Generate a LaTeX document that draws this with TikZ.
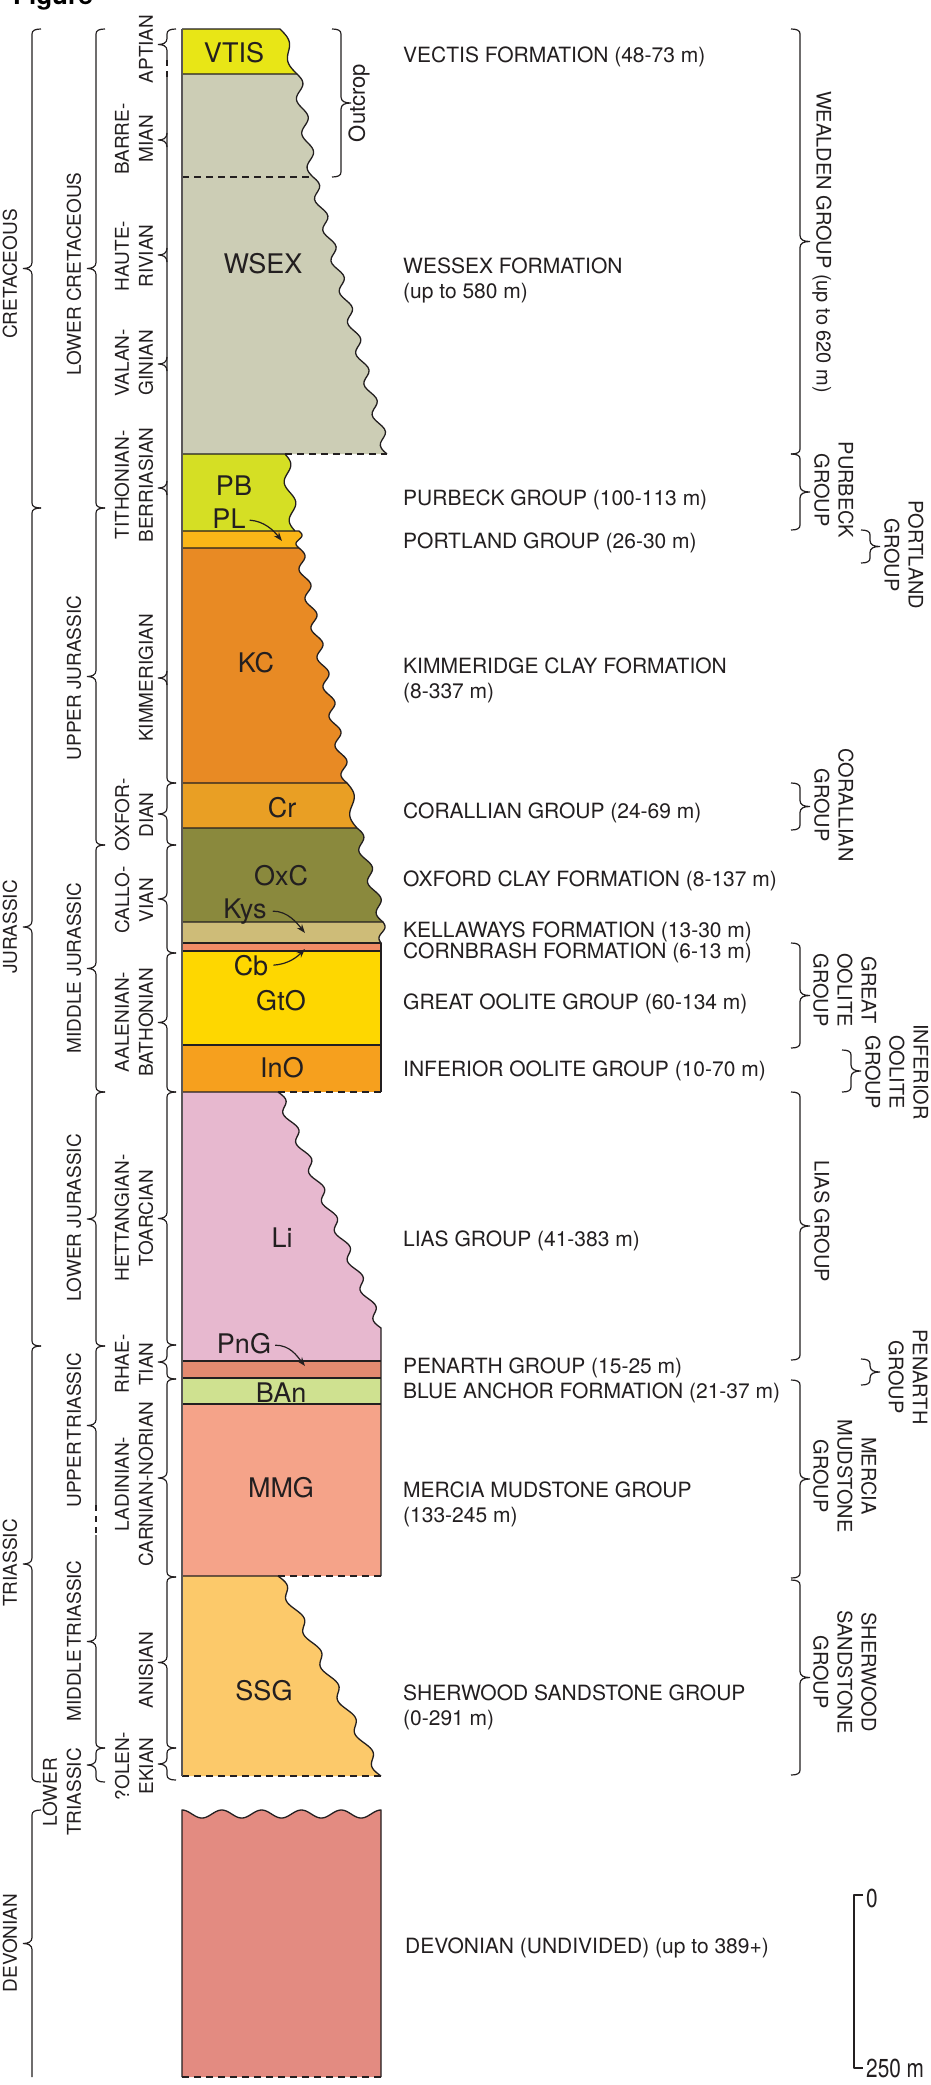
\documentclass[tikz,border=0pt]{standalone}
\usepackage{fontspec}
\setmainfont{TeX Gyre Heros}
\usetikzlibrary{arrows.meta}
\definecolor{ink}{HTML}{231F20}
\definecolor{cVTIS}{HTML}{E8E616}
\definecolor{cWSEX}{HTML}{CCCDB5}
\definecolor{cPB}{HTML}{D5DF24}
\definecolor{cPL}{HTML}{FBB617}
\definecolor{cKC}{HTML}{E88A24}
\definecolor{cCr}{HTML}{E99F24}
\definecolor{cOxC}{HTML}{8A893D}
\definecolor{cKys}{HTML}{CEBC78}
\definecolor{cCb}{HTML}{F08C66}
\definecolor{cGtO}{HTML}{FED700}
\definecolor{cInO}{HTML}{F6A01E}
\definecolor{cLi}{HTML}{E7B8CF}
\definecolor{cPnG}{HTML}{E38A70}
\definecolor{cBAn}{HTML}{CFE190}
\definecolor{cMMG}{HTML}{F5A389}
\definecolor{cSSG}{HTML}{FCC96A}
\definecolor{cDEV}{HTML}{E38B81}
\newcommand{\BraceL}[5]{\draw[brc] ({#1+9*#4},{#2}) .. controls ({#1+3*#4},{#2}) and ({#1},{#2+1.5}) .. ({#1},{#2+5}) -- ({#1},{(#2+#3)/2-6}) .. controls ({#1},{(#2+#3)/2-1.5}) and ({#1-4},{(#2+#3)/2}) .. ({#1-9},{(#2+#3)/2}) .. controls ({#1-4},{(#2+#3)/2}) and ({#1},{(#2+#3)/2+1.5}) .. ({#1},{(#2+#3)/2+6}) -- ({#1},{#3-5}) .. controls ({#1},{#3-1.5}) and ({#1+3*#5},{#3}) .. ({#1+9*#5},{#3});}
\newcommand{\BraceR}[5]{\draw[brc] ({#1-9*#4},{#2}) .. controls ({#1-3*#4},{#2}) and ({#1},{#2+1.5}) .. ({#1},{#2+5}) -- ({#1},{(#2+#3)/2-6}) .. controls ({#1},{(#2+#3)/2-1.5}) and ({#1+4},{(#2+#3)/2}) .. ({#1+10},{(#2+#3)/2}) .. controls ({#1+4},{(#2+#3)/2}) and ({#1},{(#2+#3)/2+1.5}) .. ({#1},{(#2+#3)/2+6}) -- ({#1},{#3-5}) .. controls ({#1},{#3-1.5}) and ({#1-3*#5},{#3}) .. ({#1-9*#5},{#3});}
\newcommand{\TipL}[2]{\draw[brc] ({#1},{#2-7}) .. controls ({#1},{#2-1.5}) and ({#1-4},{#2}) .. ({#1-9},{#2}) .. controls ({#1-4},{#2}) and ({#1},{#2+1.5}) .. ({#1},{#2+7});}
\tikzset{
  ln/.style={draw=ink, line width=1.3pt, line join=round},
  dsh/.style={draw=ink, line width=1.3pt, dash pattern=on 7pt off 5pt},
  brc/.style={draw=ink, line width=1.2pt},
  arr/.style={draw=ink, line width=1.2pt, -{Stealth[length=9pt,width=6.5pt]}},
  redge/.style n args={5}{insert path={-- plot[domain=#1:#3,samples=100,variable=\t] ({#2+(#4-#2)*((\t-#1)/(#3-#1))+#5*sin(360*max(1,round((#3-#1)/31))*((\t-#1)/(#3-#1)))},{\t})}},
  dedge/.style={insert path={-- plot[domain=182:381,samples=150,variable=\t] ({\t},{1814-4*cos(1800*((\t-182)/199))})}},
  cl/.style={font=\fontsize{27}{30}\selectfont, text=ink, anchor=base, inner sep=0pt},
  rl/.style={font=\fontsize{21}{25}\selectfont, text=ink, anchor=base west, inner sep=0pt},
  ll/.style={font=\fontsize{19}{24}\selectfont, text=ink, rotate=90, align=center, inner sep=0pt},
  rr/.style={font=\fontsize{20}{24}\selectfont, text=ink, rotate=-90, align=center, inner sep=0pt},
  sc/.style={font=\fontsize{26}{30}\selectfont, text=ink, anchor=base west, inner sep=0pt},
}
\begin{document}
\begin{tikzpicture}[x=1pt,y=-1pt]
\fill[white] (0,0) rectangle (930,2085);
\useasboundingbox (0,0) rectangle (930,2085);
\node[font=\bfseries\fontsize{26}{30}\selectfont, anchor=base west, inner sep=0pt] (fig) at (13,5) {Figure};
% ---------- layer fills
\fill[cVTIS] (182,29) -- (280,29) [redge={29}{280}{74}{297}{4.5}] -- (182,74) -- cycle;
\fill[cWSEX] (182,74) -- (297,74) [redge={74}{297}{177}{313}{4.5}] [redge={177}{313}{454}{387}{4.5}] -- (182,454) -- cycle;
\fill[cPB] (182,454) -- (285,454) [redge={454}{285}{531}{295}{4.5}] -- (182,531) -- cycle;
\fill[cPL] (182,531) -- (299,531) [redge={531}{299}{548}{299}{3}] -- (182,548) -- cycle;
\fill[cKC] (182,548) -- (299,548) [redge={548}{299}{783}{347}{4.5}] -- (182,783) -- cycle;
\fill[cCr] (182,783) -- (347,783) [redge={783}{347}{828}{357}{4.5}] -- (182,828) -- cycle;
\fill[cOxC] (182,828) -- (357,828) [redge={828}{357}{922}{383}{4.5}] -- (182,922) -- cycle;
\fill[cKys] (182,922) -- (383,922) [redge={922}{383}{943}{381}{2.5}] -- (182,943) -- cycle;
\fill[cCb] (182,943) rectangle (381,951);
\fill[cGtO] (182,951) rectangle (381,1045);
\fill[cInO] (182,1045) rectangle (381,1092);
\fill[cLi] (182,1092) -- (278,1092) [redge={1092}{278}{1328}{381}{4.5}] -- (381,1361) -- (182,1361) -- cycle;
\fill[cPnG] (182,1361) rectangle (381,1378);
\fill[cBAn] (182,1378) rectangle (381,1404);
\fill[cMMG] (182,1404) rectangle (381,1576);
\fill[cSSG] (182,1576) -- (278,1576) [redge={1576}{278}{1776}{381}{4.5}] -- (182,1776) -- cycle;
\fill[cDEV] (182,1810) [dedge] -- (381,2077) -- (182,2077) -- cycle;
% ---------- layer outlines
\draw[ln] (182,29) -- (280,29) [redge={29}{280}{74}{297}{4.5}];
\draw[ln] (182,74) -- (297,74) [redge={74}{297}{177}{313}{4.5}] [redge={177}{313}{454}{387}{4.5}];
\draw[ln] (182,454) -- (285,454) [redge={454}{285}{531}{295}{4.5}];
\draw[dsh] (285,454) -- (387,454);
\draw[ln] (182,531) -- (299,531) [redge={531}{299}{548}{299}{3}];
\draw[ln] (182,548) -- (299,548) [redge={548}{299}{783}{347}{4.5}];
\draw[ln] (182,783) -- (347,783) [redge={783}{347}{828}{357}{4.5}];
\draw[ln] (182,828) -- (357,828) [redge={828}{357}{922}{383}{4.5}];
\draw[ln] (182,922) -- (383,922) [redge={922}{383}{943}{381}{2.5}];
\draw[ln] (182,943) -- (381,943) -- (381,1092);
\draw[ln] (182,951) -- (381,951);
\draw[ln] (182,1045) -- (381,1045);
\draw[ln] (182,1092) -- (278,1092) [redge={1092}{278}{1328}{381}{4.5}] -- (381,1576);
\draw[dsh] (278,1092) -- (381,1092);
\draw[ln] (182,1361) -- (381,1361);
\draw[ln] (182,1378) -- (381,1378);
\draw[ln] (182,1404) -- (381,1404);
\draw[ln] (182,1576) -- (278,1576) [redge={1576}{278}{1776}{381}{4.5}];
\draw[dsh] (278,1576) -- (381,1576);
\draw[dsh] (182,1776) -- (381,1776);
\draw[dsh] (182,177) -- (313,177);
\draw[ln, draw=ink!75] (182,29) -- (182,1776);
\draw[ln] (182,2077) -- (182,1810) [dedge] -- (381,2077);
\draw[dsh] (182,2077) -- (381,2077);
% ---------- column labels
\node[cl] (VTIS) at (234,62) {VTIS};
\node[cl] (WSEX) at (263,273) {WSEX};
\node[cl] (PB) at (234,495) {PB};
\node[cl] (PL) at (229,528) {PL};
\node[cl] (KC) at (256,672) {KC};
\node[cl] (Cr) at (282,817) {Cr};
\node[cl] (OxC) at (281,885) {OxC};
\node[cl] (Kys) at (245,918) {Kys};
\node[cl] (Cb) at (251,975) {Cb};
\node[cl] (GtO) at (281,1010) {GtO};
\node[cl] (InO) at (282,1077) {InO};
\node[cl] (Li) at (282,1247) {Li};
\node[cl] (PnG) at (244,1353) {PnG};
\node[cl] (BAn) at (281,1402) {BAn};
\node[cl] (MMG) at (281,1497) {MMG};
\node[cl] (SSG) at (264,1700) {SSG};
% ---------- arrows
\coordinate (PLt) at (282,541);
\coordinate (Kyst) at (305,933);
\coordinate (Cbt) at (305,949);
\coordinate (PnGt) at (305,1366);
\draw[arr] ([xshift=4pt,yshift=-2pt]PL.east) .. controls +(15,1) and +(-8,-10) .. (PLt);
\draw[arr] ([xshift=6pt]Kys.east) .. controls +(15,0) and +(-8,-10) .. (Kyst);
\draw[arr] ([xshift=5pt]Cb.east) .. controls +(15,-1) and +(-8,8) .. (Cbt);
\draw[arr] ([xshift=4pt,yshift=-2pt]PnG.east) .. controls +(15,0) and +(-8,-10) .. (PnGt);
% ---------- right labels
\node[rl] (lVTIS) at (403,62) {VECTIS FORMATION (48-73 m)};
\node[rl] (lWSEXa) at (403,273) {WESSEX FORMATION};
\node[rl] (lWSEXb) at (403,298) {(up to 580 m)};
\node[rl] (lPB) at (403,505) {PURBECK GROUP (100-113 m)};
\node[rl] (lPL) at (403,548) {PORTLAND GROUP (26-30 m)};
\node[rl] (lKCa) at (403,673) {KIMMERIDGE CLAY FORMATION};
\node[rl] (lKCb) at (403,698) {(8-337 m)};
\node[rl] (lCr) at (403,818) {CORALLIAN GROUP (24-69 m)};
\node[rl] (lOxC) at (403,886) {OXFORD CLAY FORMATION (8-137 m)};
\node[rl] (lKys) at (403,937) {KELLAWAYS FORMATION (13-30 m)};
\node[rl] (lCb) at (403,958) {CORNBRASH FORMATION (6-13 m)};
\node[rl] (lGtO) at (403,1009) {GREAT OOLITE GROUP (60-134 m)};
\node[rl] (lInO) at (403,1076) {INFERIOR OOLITE GROUP (10-70 m)};
\node[rl] (lLi) at (403,1246) {LIAS GROUP (41-383 m)};
\node[rl] (lPnG) at (403,1373) {PENARTH GROUP (15-25 m)};
\node[rl] (lBAn) at (403,1398) {BLUE ANCHOR FORMATION (21-37 m)};
\node[rl] (lMMGa) at (403,1497) {MERCIA MUDSTONE GROUP};
\node[rl] (lMMGb) at (403,1522) {(133-245 m)};
\node[rl] (lSSGa) at (403,1700) {SHERWOOD SANDSTONE GROUP};
\node[rl] (lSSGb) at (403,1725) {(0-291 m)};
\node[rl] (lDEV) at (405,1953) {DEVONIAN (UNDIVIDED) (up to 389+)};
% ---------- right braces and group names
\BraceR{800}{29}{454}{1}{1}
\BraceR{800}{454}{530}{1}{1}
\BraceR{870}{530}{563}{1}{1}
\BraceR{800}{783}{830}{1}{1}
\BraceR{800}{943}{1048}{1}{1}
\BraceR{851}{1050}{1092}{1}{1}
\BraceR{800}{1092}{1360}{1}{1}
\BraceR{870}{1359}{1385}{1}{1}
\BraceR{800}{1380}{1578}{1}{1}
\BraceR{800}{1580}{1775}{1}{1}
\BraceR{341}{29}{177}{1}{1}
\node[rr] (gWeal) at (822,242) {WEALDEN GROUP (up to 620 m)};
\node[rr] (gPurb) at (834,490) {PURBECK\\GROUP};
\node[rr] (gPort) at (904,555) {PORTLAND\\GROUP};
\node[rr] (gCora) at (834,805) {CORALLIAN\\GROUP};
\node[rr] (gGtO) at (845,990) {GREAT\\OOLITE\\GROUP};
\node[rr] (gInO) at (897,1072) {INFERIOR\\OOLITE\\GROUP};
\node[rr] (gLias) at (822,1221) {LIAS GROUP};
\node[rr] (gPen) at (908,1377) {PENARTH\\GROUP};
\node[rr] (gMerc) at (845,1476) {MERCIA\\MUDSTONE\\GROUP};
\node[rr] (gSher) at (845,1672) {SHERWOOD\\SANDSTONE\\GROUP};
\node[ll, font=\fontsize{22}{26}\selectfont] (outc) at (359,103) {Outcrop};
% ---------- left braces: periods
\BraceL{32}{29}{508}{1}{1}
\BraceL{32}{508}{1346}{1}{1}
\BraceL{32}{1346}{1782}{1}{1}
\BraceL{32}{1810}{2077}{1}{0}
\node[ll] (pCret) at (10,274) {CRETACEOUS};
\node[ll] (pJur) at (10,927) {JURASSIC};
\node[ll] (pTri) at (10,1563) {TRIASSIC};
\node[ll] (pDev) at (10,1943) {DEVONIAN};
% ---------- epochs
\BraceL{96}{29}{508}{1}{1}
\BraceL{96}{508}{845}{1}{1}
\BraceL{96}{845}{1092}{1}{1}
\BraceL{96}{1092}{1346}{1}{1}
\BraceL{96}{1346}{1505}{1}{0}
\draw[brc, dash pattern=on 6pt off 5pt] (96,1505) -- (96,1535);
\BraceL{96}{1535}{1748}{0}{1}
\BraceL{96}{1748}{1782}{1}{1}
\node[ll] (eLC) at (74,274) {LOWER CRETACEOUS};
\node[ll] (eUJ) at (74,678) {UPPER JURASSIC};
\node[ll] (eMJ) at (74,968) {MIDDLE JURASSIC};
\node[ll] (eLJ) at (74,1218) {LOWER JURASSIC};
\node[ll] (eUT) at (74,1430) {UPPER\kern2pt TRIASSIC};
\node[ll] (eMT) at (74,1641) {MIDDLE\kern2pt TRIASSIC};
\node[ll] (eLT) at (62,1792) {LOWER\\TRIASSIC};
% ---------- stages
\BraceL{167}{29}{60}{1}{0}
\draw[brc, dash pattern=on 6pt off 5pt] (167,60) -- (167,77);
\draw[brc] (167,77) -- (167,778) .. controls (167,781.5) and (170,783) .. (176,783);
\TipL{167}{140}
\TipL{167}{255}
\TipL{167}{364}
\TipL{167}{488}
\TipL{167}{678}
\BraceL{167}{783}{845}{1}{1}
\BraceL{167}{845}{953}{1}{1}
\BraceL{167}{953}{1092}{1}{1}
\BraceL{167}{1092}{1345}{1}{1}
\BraceL{167}{1345}{1379}{1}{1}
\BraceL{167}{1379}{1577}{1}{1}
\BraceL{167}{1577}{1748}{1}{1}
\BraceL{167}{1748}{1780}{1}{1}
\node[ll] (sApt) at (146,49) {APTIAN};
\node[ll] (sBar) at (134,139) {BARRE-\\MIAN};
\node[ll] (sHau) at (134,256) {HAUTE-\\RIVIAN};
\node[ll] (sVal) at (134,363) {VALAN-\\GINIAN};
\node[ll] (sTit) at (134,485) {TITHONIAN-\\BERRIASIAN};
\node[ll] (sKim) at (146,678) {KIMMERIGIAN};
\node[ll] (sOxf) at (134,815) {OXFOR-\\DIAN};
\node[ll] (sCal) at (134,900) {CALLO-\\VIAN};
\node[ll] (sAal) at (134,1022) {AALENIAN-\\BATHONIAN};
\node[ll] (sHet) at (134,1218) {HETTANGIAN-\\TOARCIAN};
\node[ll] (sRha) at (134,1364) {RHAE-\\TIAN};
\node[ll] (sLad) at (134,1484) {LADINIAN-\\CARNIAN-NORIAN};
\node[ll] (sAni) at (146,1670) {ANISIAN};
\node[ll] (sOle) at (134,1766) {?OLEN-\\EKIAN};
% ---------- scale bar
\draw[ln] (863,1895) -- (854,1895) -- (854,2068) -- (863,2068);
\node[sc] (s0) at (866,1907) {\scalebox{0.8}[1]{0}};
\node[sc] (s250) at (866,2077) {\scalebox{0.8}[1]{250 m}};
\end{tikzpicture}
\end{document}
